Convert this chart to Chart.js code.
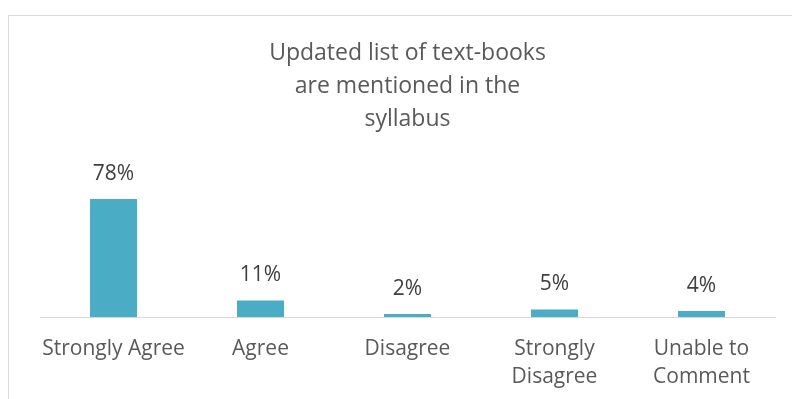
<!DOCTYPE html>
<html>
<head>
<meta charset="utf-8">
<script src="https://cdn.jsdelivr.net/npm/chart.js@4/dist/chart.umd.min.js"></script>
<style>
  body { margin: 0; background: #fff; }
  #wrap { position: relative; width: 792px; height: 399px; }
  #frame { position: absolute; left: 8px; top: 15px; width: 800px; height: 400px; border: 1px solid #d9d9d9; pointer-events: none; }
</style>
</head>
<body>
<div id="wrap">
  <canvas id="chart" width="792" height="399"></canvas>
  <div id="frame"></div>
</div>
<script>
const titleLines = ['Updated list of text-books', 'are mentioned in the', 'syllabus'];
const categories = [['Strongly Agree'], ['Agree'], ['Disagree'], ['Strongly', 'Disagree'], ['Unable to', 'Comment']];
const percentages = [78, 11, 2, 5, 4];

const fontFamily = 'Open Sans, sans-serif';

// draws the % value above each bar
const valueLabels = {
    id: 'valueLabels',
    afterDatasetsDraw(chart) {
        const ctx = chart.ctx;
        const meta = chart.getDatasetMeta(0);
        ctx.save();
        ctx.font = '21px ' + fontFamily;
        ctx.fillStyle = '#404040';
        ctx.textAlign = 'center';
        ctx.textBaseline = 'middle';
        meta.data.forEach((bar, i) => {
            ctx.fillText(percentages[i] + '%', bar.x, bar.y - 25);
        });
        ctx.restore();
    }
};

const ctx = document.getElementById('chart').getContext('2d');
new Chart(ctx, {
    type: 'bar',
    data: {
        labels: categories,
        datasets: [{
            data: percentages,
            backgroundColor: '#4bacc6',
            barPercentage: 0.32,
            categoryPercentage: 1
        }]
    },
    options: {
        responsive: false,
        animation: false,
        layout: { padding: { left: 40, right: 17, top: 37, bottom: -10 } },
        plugins: {
            legend: { display: false },
            tooltip: { enabled: false },
            title: {
                display: true,
                text: titleLines,
                color: '#595959',
                font: { family: fontFamily, size: 23, weight: 'normal', lineHeight: 1.43 },
                padding: { top: 0, bottom: 30 }
            }
        },
        scales: {
            x: {
                grid: { display: false, drawTicks: false },
                border: { color: '#d9d9d9', width: 1 },
                ticks: {
                    color: '#595959',
                    font: { family: fontFamily, size: 21, lineHeight: 1.38 },
                    padding: 17,
                    maxRotation: 0,
                    autoSkip: false
                }
            },
            y: {
                display: false,
                min: 0,
                max: 100
            }
        }
    },
    plugins: [valueLabels]
});
</script>
</body>
</html>
